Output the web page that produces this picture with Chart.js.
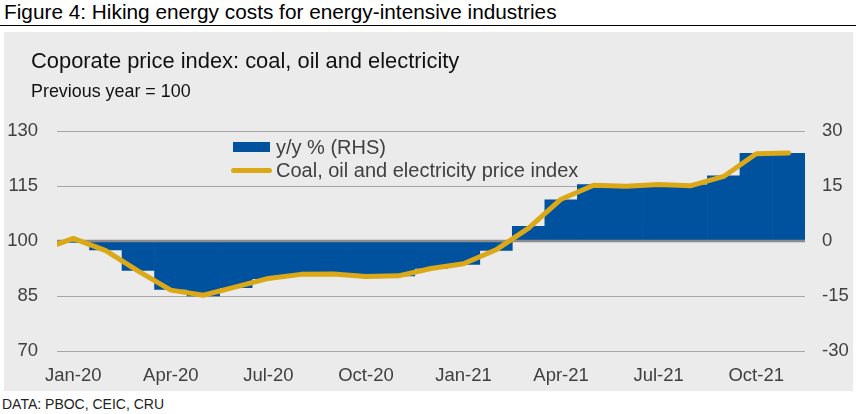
<!DOCTYPE html>
<html>
<head>
<meta charset="utf-8">
<script src="https://cdn.jsdelivr.net/npm/chart.js@4.4.1/dist/chart.umd.min.js"></script>
<style>
  html, body { margin: 0; padding: 0; background: #fff; }
  body { width: 856px; height: 414px; position: relative; overflow: hidden;
         font-family: "Liberation Sans", Arial, sans-serif; }
  #title { position: absolute; left: 4px; top: 2px; font-size: 20.8px; line-height: 1; color: #000; white-space: nowrap; }
  #rule { position: absolute; left: 0; top: 25px; width: 856px; height: 1px; background: #000; }
  #panel { position: absolute; left: 4px; top: 32px; width: 849px; height: 359px; background: #ebebeb; }
  #panel canvas { position: absolute; left: 0; top: 0; }
  #subtitle { position: absolute; left: 27px; top: 18px; font-size: 21.9px; line-height: 1; color: #111; white-space: nowrap; }
  #note { position: absolute; left: 27px; top: 51px; font-size: 17.9px; line-height: 1; color: #111; white-space: nowrap; }
  #legend { position: absolute; left: 227px; top: 103.5px; font-size: 20px; color: #404040; }
  .row { height: 23px; display: flex; align-items: center; white-space: nowrap; }
  .sw { display: inline-block; }
  #source { position: absolute; left: 2px; top: 396px; font-size: 14px; color: #222; white-space: nowrap; }
</style>
</head>
<body>
<div id="title">Figure 4: Hiking energy costs for energy-intensive industries</div>
<div id="rule"></div>
<div id="panel">
  <canvas id="chart" width="849" height="359"></canvas>
  <div id="subtitle">Coporate price index: coal, oil and electricity</div>
  <div id="note">Previous year = 100</div>
  <div id="legend"></div>
</div>
<div id="source">DATA: PBOC, CEIC, CRU</div>

<script>
// months on the category axis
const months = ['Jan-20', 'Feb-20', 'Mar-20', 'Apr-20', 'May-20', 'Jun-20', 'Jul-20', 'Aug-20',
    'Sep-20', 'Oct-20', 'Nov-20', 'Dec-20', 'Jan-21', 'Feb-21', 'Mar-21', 'Apr-21', 'May-21',
    'Jun-21', 'Jul-21', 'Aug-21', 'Sep-21', 'Oct-21', 'Nov-21'];

// y/y % change (RHS)
const yoyChange = [-0.4, -2.4, -8.0, -13.2, -15.0, -12.7, -10.3, -9.2, -9.0, -9.6, -9.5, -7.5,
    -6.4, -2.6, 4.0, 11.2, 15.4, 15.2, 15.5, 15.3, 17.8, 23.9, 23.9];

// price index, previous year = 100 (LHS); first value sits at the left edge of the plot
const indexEdgeStart = 99.1;
const priceIndex = [100.7, 97.4, 91.8, 86.6, 85.2, 87.5, 89.8, 90.9, 91.0, 90.3, 90.5, 92.5,
    93.8, 97.6, 103.5, 111.4, 115.2, 114.9, 115.4, 115.1, 117.6, 123.8, 124.0];

const leftTicks = [70, 85, 100, 115, 130];
const rightTicks = [-30, -15, 0, 15, 30];

const barColor = '#00529f';
const lineColor = '#dba818';
const tickColor = '#404040';

// line points: edge point at -0.5 then one per month centre
const linePoints = [{ x: -0.5, y: indexEdgeStart }].concat(
    priceIndex.map((v, i) => ({ x: i, y: v }))
);

// draw the 100/0 axis line over the bars, under the index line
const zeroLine = {
    id: 'zeroLine',
    afterDatasetDraw(chart, args) {
        if (args.meta.type !== 'bar') return;
        const ctx = chart.ctx;
        const y = chart.scales.y.getPixelForValue(100);
        ctx.save();
        ctx.strokeStyle = '#8c8c8c';
        ctx.lineWidth = 2.5;
        ctx.beginPath();
        ctx.moveTo(chart.chartArea.left, y);
        ctx.lineTo(chart.chartArea.right, y);
        ctx.stroke();
        ctx.restore();
    }
};

const ctx = document.getElementById('chart').getContext('2d');
const chart = new Chart(ctx, {
    data: {
        labels: months,
        datasets: [
            {
                type: 'line',
                label: 'Coal, oil and electricity price index',
                data: linePoints,
                xAxisID: 'x2',
                yAxisID: 'y',
                borderColor: lineColor,
                borderWidth: 5,
                borderCapStyle: 'round',
                borderJoinStyle: 'round',
                pointRadius: 0,
                tension: 0,
                order: 0
            },
            {
                type: 'bar',
                label: 'y/y % (RHS)',
                data: yoyChange,
                xAxisID: 'x',
                yAxisID: 'y1',
                backgroundColor: barColor,
                borderWidth: 0,
                grouped: false,
                barPercentage: 1,
                categoryPercentage: 1,
                order: 1
            }
        ]
    },
    options: {
        responsive: false,
        animation: false,
        devicePixelRatio: 1,
        layout: { padding: { top: 99, bottom: 0, left: 0, right: 0 } },
        plugins: {
            legend: { display: false },
            tooltip: { enabled: false }
        },
        scales: {
            x: {
                type: 'category',
                offset: true,
                grid: { display: false, drawTicks: false },
                border: { display: false },
                ticks: {
                    autoSkip: false,
                    maxRotation: 0,
                    padding: 14,
                    color: tickColor,
                    font: { family: 'Liberation Sans', size: 18.5 },
                    callback: function (val, i) { return i % 3 === 0 ? months[i] : ''; }
                },
                afterFit(scale) { scale.height = 40; }
            },
            x2: {
                type: 'linear',
                display: false,
                min: -0.5,
                max: months.length - 0.5
            },
            y: {
                position: 'left',
                min: 70,
                max: 130,
                afterBuildTicks(scale) { scale.ticks = leftTicks.map(v => ({ value: v })); },
                grid: {
                    color: '#a6a6a6',
                    lineWidth: ctx => ctx.tick && ctx.tick.value === 100 ? 0 : 1,
                    drawTicks: false
                },
                border: { display: false },
                ticks: {
                    padding: 19,
                    color: tickColor,
                    font: { family: 'Liberation Sans', size: 18.5 }
                },
                afterFit(scale) { scale.width = 53; }
            },
            y1: {
                position: 'right',
                min: -30,
                max: 30,
                afterBuildTicks(scale) { scale.ticks = rightTicks.map(v => ({ value: v })); },
                grid: { display: false, drawTicks: false },
                border: { display: false },
                ticks: {
                    padding: 17,
                    color: tickColor,
                    font: { family: 'Liberation Sans', size: 18.5 }
                },
                afterFit(scale) { scale.width = 48; }
            }
        }
    },
    plugins: [zeroLine]
});

// legend built from the datasets, bars first
function renderLegend() {
    const box = document.getElementById('legend');
    const sets = chart.data.datasets.slice().reverse();
    sets.forEach(ds => {
        const row = document.createElement('div');
        row.className = 'row';
        const sw = document.createElement('span');
        sw.className = 'sw';
        if (ds.type === 'bar') {
            sw.style.cssText = 'width:37px;height:10px;margin-left:2px;margin-right:6px;background:' + ds.backgroundColor;
        } else {
            sw.style.cssText = 'width:41px;height:5px;border-radius:3px;margin-right:4px;background:' + ds.borderColor;
        }
        const txt = document.createElement('span');
        txt.textContent = ds.label;
        row.appendChild(sw);
        row.appendChild(txt);
        box.appendChild(row);
    });
}
renderLegend();
</script>
</body>
</html>
